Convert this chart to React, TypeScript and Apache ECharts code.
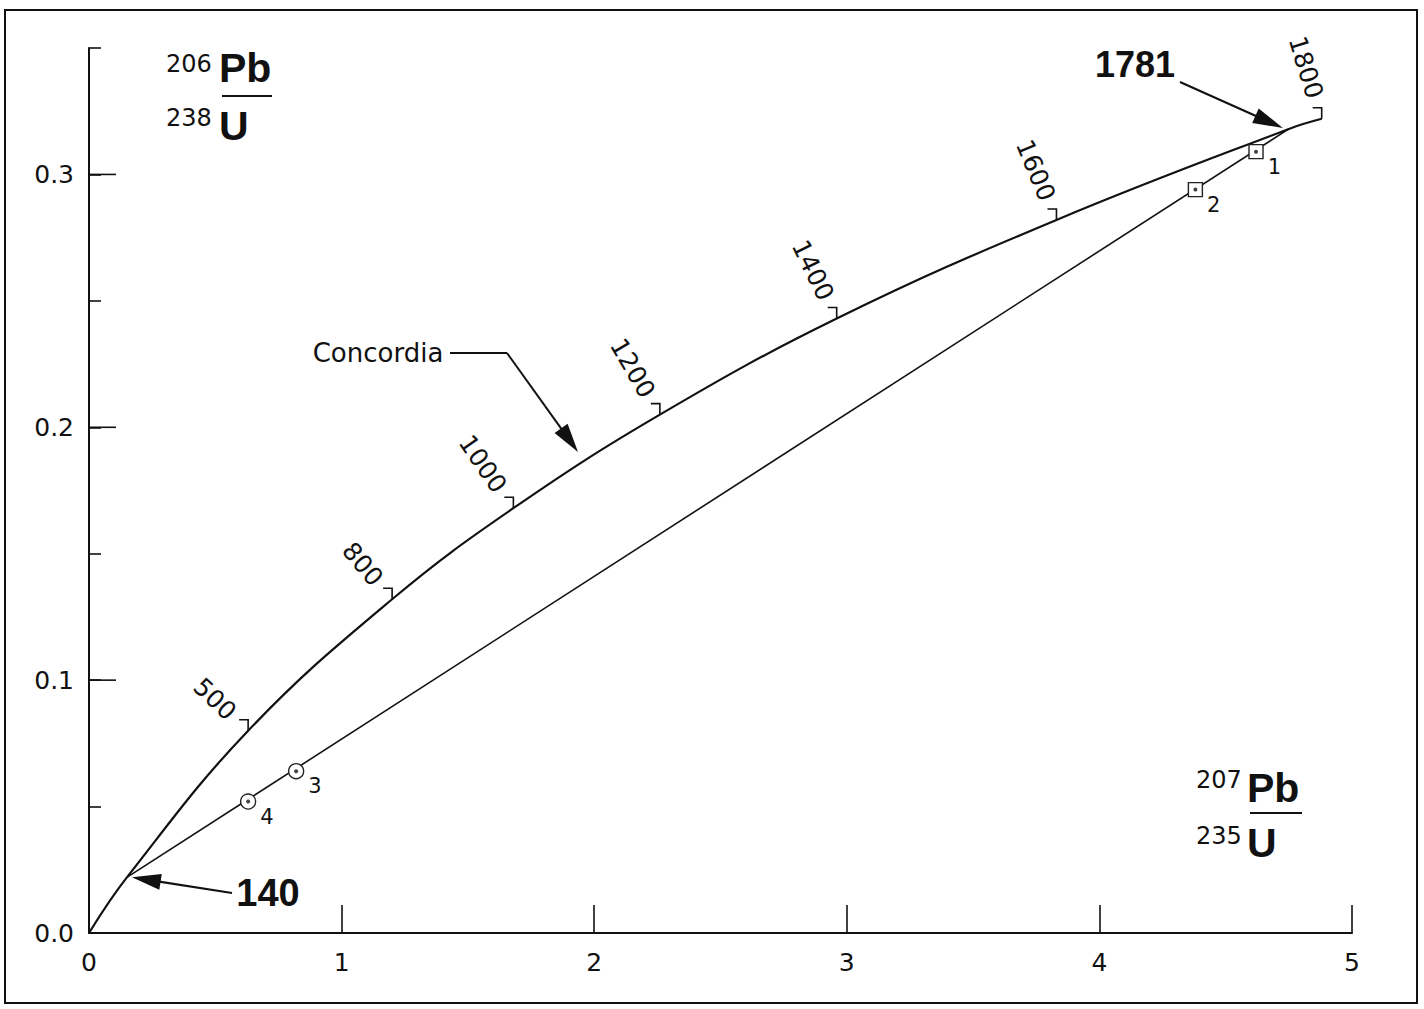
import React, { useEffect, useRef } from "react";
import * as echarts from "echarts";

// ---- data ----
const concordiaAges = [0, 140, 500, 800, 1000, 1200, 1400, 1600, 1781, 1800];
const concordiaX = [0, 0.15, 0.63, 1.2, 1.68, 2.26, 2.96, 3.83, 4.75, 4.88]; // 207Pb/235U
const concordiaY = [0, 0.022, 0.08, 0.132, 0.168, 0.205, 0.243, 0.282, 0.318, 0.322]; // 206Pb/238U
const tickedAges = [500, 800, 1000, 1200, 1400, 1600, 1800];
const interceptAges = [140, 1781];
const sampleLabels = ["1", "2", "3", "4"];
const sampleX = [4.62, 4.38, 0.82, 0.63];
const sampleY = [0.309, 0.294, 0.064, 0.052];
const sampleShapes = ["rect", "rect", "circle", "circle"];
const yMajorTicks = [0.1, 0.2, 0.3];

const FONT = "DejaVu Sans, Verdana, sans-serif";
const BOLD_FONT = "Liberation Sans, Arial, Helvetica, sans-serif";
const INK = "#111";

function arrow(tail: number[], tip: number[], headLen: number, headHalf: number, width: number) {
  const dx = tip[0] - tail[0];
  const dy = tip[1] - tail[1];
  const L = Math.hypot(dx, dy);
  const ux = dx / L;
  const uy = dy / L;
  const base = [tip[0] - ux * headLen, tip[1] - uy * headLen];
  return [
    {
      type: "line",
      shape: { x1: tail[0], y1: tail[1], x2: base[0] + ux * 3, y2: base[1] + uy * 3 },
      style: { stroke: INK, lineWidth: width },
    },
    {
      type: "polygon",
      shape: {
        points: [
          tip,
          [base[0] - uy * headHalf, base[1] + ux * headHalf],
          [base[0] + uy * headHalf, base[1] - ux * headHalf],
        ],
      },
      style: { fill: INK },
    },
  ];
}

function txt(text: string, x: number, y: number, size: number, bold: boolean, align = "left") {
  return {
    type: "text",
    x,
    y,
    style: {
      text,
      fill: INK,
      fontSize: size,
      fontFamily: bold ? BOLD_FONT : FONT,
      fontWeight: bold ? "bold" : "normal",
      align,
      textAlign: align,
      verticalAlign: "middle",
      textVerticalAlign: "middle",
    },
  };
}

export default function App() {
  const ref = useRef<HTMLDivElement>(null);

  useEffect(() => {
    const chart = echarts.init(ref.current!, null, { renderer: "svg" });
    const n = concordiaAges.length;
    const concordiaData = concordiaX.map((x, i) => [x, concordiaY[i]]);
    const interceptIdx = interceptAges.map((a) => concordiaAges.indexOf(a));
    const discordiaData = interceptIdx.map((i) => [concordiaX[i], concordiaY[i]]);

    const option: any = {
      animation: false,
      backgroundColor: "#fff",
      grid: { left: 89, top: 48, width: 1263, height: 885, containLabel: false, outerBoundsMode: "none" },
      xAxis: {
        type: "value",
        min: 0,
        max: 5,
        interval: 1,
        axisLine: { show: true, onZero: false, lineStyle: { color: INK, width: 2 } },
        axisTick: { show: true, inside: true, length: 28, lineStyle: { color: INK, width: 1.6 } },
        axisLabel: { color: INK, fontSize: 25, fontFamily: FONT, margin: 17 },
        splitLine: { show: false },
      },
      yAxis: {
        type: "value",
        min: 0,
        max: 0.35,
        interval: 0.05,
        axisLine: { show: true, onZero: false, lineStyle: { color: INK, width: 2 } },
        axisTick: { show: true, inside: true, length: 12, lineStyle: { color: INK, width: 1.6 } },
        axisLabel: {
          color: INK,
          fontSize: 25,
          fontFamily: FONT,
          margin: 15,
          formatter: (v: number) => (Math.abs(v * 10 - Math.round(v * 10)) < 1e-6 && v < 0.34 ? v.toFixed(1) : ""),
        },
        splitLine: { show: false },
      },
      series: [
        {
          name: "Concordia",
          type: "line",
          data: concordiaData,
          smooth: 0.4,
          showSymbol: false,
          symbol: "none",
          lineStyle: { color: INK, width: 2.2 },
          z: 3,
          silent: true,
        },
        {
          name: "Discordia",
          type: "line",
          data: discordiaData,
          showSymbol: false,
          symbol: "none",
          lineStyle: { color: INK, width: 1.6 },
          z: 3,
          silent: true,
        },
        {
          name: "samples",
          type: "scatter",
          data: sampleX.map((x, i) => ({
            value: [x, sampleY[i]],
            name: sampleLabels[i],
            symbol: sampleShapes[i],
            symbolSize: sampleShapes[i] === "rect" ? 14 : 15,
          })),
          itemStyle: { color: "#fff", borderColor: "#222", borderWidth: 1.4, opacity: 1 },
          label: {
            show: true,
            formatter: "{b}",
            position: "right",
            distance: 2,
            offset: [2, 15],
            fontSize: 21,
            fontFamily: FONT,
            color: INK,
          },
          z: 5,
          silent: true,
        },
        {
          name: "sampleDots",
          type: "scatter",
          data: sampleX.map((x, i) => [x, sampleY[i]]),
          symbol: "circle",
          symbolSize: 4,
          itemStyle: { color: INK },
          z: 6,
          silent: true,
        },
        {
          name: "ageTicks",
          type: "custom",
          clip: false,
          silent: true,
          z: 4,
          data: tickedAges.map((a) => {
            const i = concordiaAges.indexOf(a);
            return [concordiaX[i], concordiaY[i], i];
          }),
          encode: { x: 0, y: 1 },
          renderItem: (_params: any, api: any) => {
            const i = api.value(2);
            const P = api.coord([concordiaX[i], concordiaY[i]]);
            const ia = Math.max(i - 1, 0);
            const ib = Math.min(i + 1, n - 1);
            const A = api.coord([concordiaX[ia], concordiaY[ia]]);
            const B = api.coord([concordiaX[ib], concordiaY[ib]]);
            const th = Math.atan2(A[1] - B[1], B[0] - A[0]);
            const nx = -Math.sin(th);
            const ny = -Math.cos(th);
            const d = 22;
            return {
              type: "group",
              children: [
                {
                  type: "polyline",
                  shape: { points: [P, [P[0], P[1] - 11], [P[0] - 9, P[1] - 11]] },
                  style: { stroke: INK, lineWidth: 1.6, fill: null },
                },
                {
                  type: "text",
                  x: P[0] + nx * d,
                  y: P[1] + ny * d,
                  rotation: th - Math.PI / 2,
                  style: {
                    text: String(concordiaAges[i]),
                    fill: INK,
                    fontSize: 25,
                    fontFamily: FONT,
                    align: "right",
                    textAlign: "right",
                    verticalAlign: "middle",
                    textVerticalAlign: "middle",
                  },
                },
              ],
            };
          },
        },
        {
          name: "yMajorTicks",
          type: "custom",
          clip: false,
          silent: true,
          z: 4,
          data: yMajorTicks.map((v) => [0, v]),
          encode: { x: 0, y: 1 },
          renderItem: (_params: any, api: any) => {
            const p = api.coord([0, api.value(1)]);
            return {
              type: "line",
              shape: { x1: p[0], y1: p[1], x2: p[0] + 27, y2: p[1] },
              style: { stroke: INK, lineWidth: 1.6 },
            };
          },
        },
      ],
    };

    chart.setOption(option);

    const p140 = chart.convertToPixel({ gridIndex: 0 }, discordiaData[0]) as number[];
    const p1781 = chart.convertToPixel({ gridIndex: 0 }, discordiaData[1]) as number[];

    const elements: any[] = [
      {
        type: "rect",
        shape: { x: 5, y: 10, width: 1412, height: 993 },
        style: { fill: null, stroke: INK, lineWidth: 2 },
      },
      // y-axis title
      txt("206", 166, 63.5, 24, false),
      txt("Pb", 219, 68, 41, true),
      { type: "line", shape: { x1: 222, y1: 96, x2: 272, y2: 96 }, style: { stroke: INK, lineWidth: 2.2 } },
      txt("238", 166, 118, 24, false),
      txt("U", 219, 125.5, 41, true),
      // x-axis title
      txt("207", 1196, 779.5, 24, false),
      txt("Pb", 1247, 787.5, 41, true),
      { type: "line", shape: { x1: 1250, y1: 813, x2: 1302, y2: 813 }, style: { stroke: INK, lineWidth: 2.2 } },
      txt("235", 1196, 836, 24, false),
      txt("U", 1247, 843, 41, true),
      // intercept annotations
      txt("1781", 1135, 64.5, 36, true, "center"),
      ...arrow([1180, 82], [p1781[0] - 6, p1781[1] - 1], 30, 8, 2.2),
      txt("140", 268, 893, 38, true, "center"),
      ...arrow([232, 893], [p140[0] + 5, p140[1]], 29, 8, 2.2),
      // Concordia label
      txt("Concordia", 378, 353, 26, false, "center"),
      { type: "polyline", shape: { points: [[450, 353], [507, 353]] }, style: { stroke: INK, lineWidth: 2, fill: null } },
      ...arrow([507, 353], [578, 452], 29, 8, 2),
    ];

    chart.setOption({ graphic: { elements } });

    return () => chart.dispose();
  }, []);

  return (
    <div
      ref={ref}
      style={{ position: "absolute", left: 0, top: 0, width: 1424, height: 1009, background: "#fff" }}
    />
  );
}
